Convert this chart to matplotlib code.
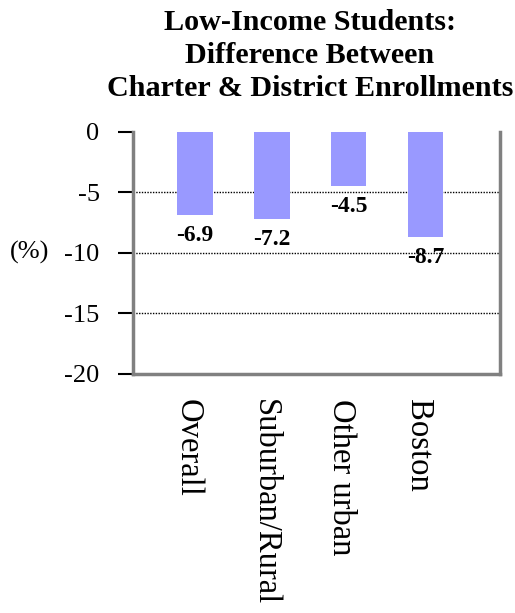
import matplotlib
matplotlib.use('Agg')
import matplotlib.pyplot as plt
from matplotlib.transforms import ScaledTranslation

# 低收入学生：特许学校与学区入学比例之差
categories = ['Overall', 'Suburban/Rural', 'Other urban', 'Boston']
values = [-6.9, -7.2, -4.5, -8.7]
yticks = [0, -5, -10, -15, -20]

plt.rcParams['font.family'] = ['Liberation Serif', 'DejaVu Serif']

fig = plt.figure(figsize=(5.15, 6.13), dpi=100)
ax = fig.add_axes([0.258, 0.390, 0.713, 0.395])

x = list(range(len(categories)))
ax.bar(x, values, width=0.46, color='#9999FF', zorder=2)
for xi, v in zip(x, values):
    ax.annotate('%.1f' % v, (xi, v), xytext=(0, -7), textcoords='offset points',
                ha='center', va='top', fontsize=17, fontweight='bold')

# 虚线网格，只画中间几条
for t in yticks[1:-1]:
    ax.axhline(t, color='black', linestyle=(0, (1, 1)), linewidth=1, zorder=1)

ax.set_xlim(-0.81, 3.97)
ax.set_ylim(-20, 0)
ax.set_yticks(yticks)
ax.set_yticklabels([str(t) for t in yticks], fontsize=19)
ax.set_xticks(x)
ax.set_xticklabels(categories, rotation=270, fontsize=23.5, va='top', ha='center')
ax.tick_params(axis='x', length=0, pad=18)
ax.tick_params(axis='y', length=11, width=1.5, color='black', pad=13)
# 竖排标签稍微往左挪
shift = ScaledTranslation(-7 / 100, 0, fig.dpi_scale_trans)
for lab in ax.get_xticklabels():
    lab.set_transform(lab.get_transform() + shift)

ax.spines['top'].set_visible(False)
for s in ['left', 'right', 'bottom']:
    ax.spines[s].set_color('#808080')
    ax.spines[s].set_linewidth(2.5)

ax.set_ylabel('(%)', rotation=0, fontsize=19, va='center', ha='center')
ax.yaxis.set_label_coords(-0.28, 0.5)

fig.text(0.602, 0.985, 'Low-Income Students:\nDifference Between\nCharter & District Enrollments',
         ha='center', va='top', fontsize=21.7, fontweight='bold', linespacing=1.27)

fig.savefig('out.png', dpi=100)
